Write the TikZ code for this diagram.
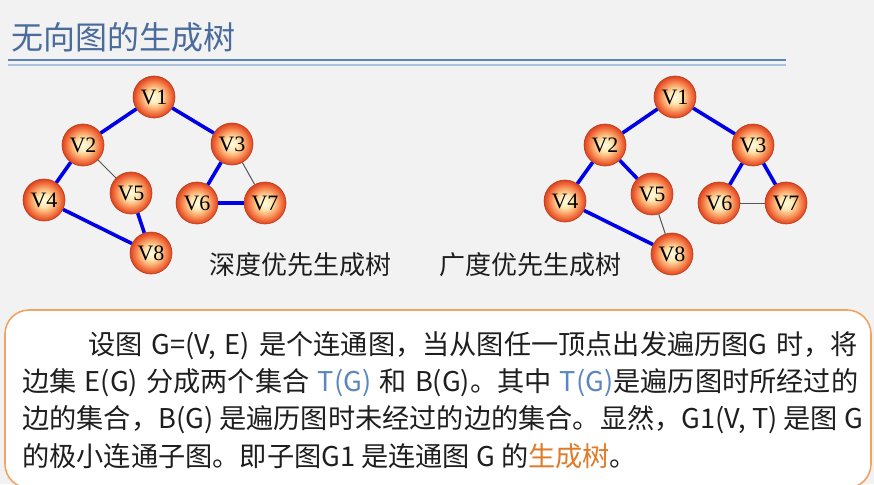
\documentclass[tikz,border=0pt]{standalone}
\usepackage{fontspec}
\setmainfont{Noto Sans CJK SC}
\newfontfamily\vlabelfont{Liberation Serif}
\usetikzlibrary{positioning}
\definecolor{stBg}{HTML}{F2F2F2}
\definecolor{stTitle}{HTML}{4A6B9B}
\definecolor{stRuleA}{HTML}{5C84B6}
\definecolor{stRuleB}{HTML}{A9C1DD}
\definecolor{stTree}{HTML}{0000E6}
\definecolor{stCross}{HTML}{555555}
\definecolor{stFrame}{HTML}{F0A464}
\definecolor{stLink}{HTML}{5B86C0}
\definecolor{stHot}{HTML}{E07B2A}
\definecolor{stInk}{HTML}{1E1E1E}
\definecolor{vCore}{HTML}{FFFBE2}
\definecolor{vPale}{HTML}{FFE6AE}
\definecolor{vMid}{HTML}{FAA468}
\definecolor{vOuter}{HTML}{EF6638}
\definecolor{vRim}{HTML}{DA4420}
\pgfdeclareradialshading{stball}{\pgfpoint{0bp}{0bp}}{%
  color(0bp)=(vCore); color(8bp)=(vPale); color(15bp)=(vMid);
  color(21bp)=(vOuter); color(25bp)=(vRim); color(50bp)=(vRim)}
\tikzset{
  st-vert/.style={
    circle, minimum size=42pt, inner sep=0pt, shading=stball,
    draw=vRim!85!black, line width=0.6pt,
    font=\vlabelfont\fontsize{22}{22}\selectfont
  },
  st-tree/.style={draw=stTree, line width=3.6pt},
  st-cross/.style={draw=stCross, line width=1pt},
  st-cap/.style={font=\fontsize{26}{26}\selectfont, text=stInk, inner sep=0pt},
  st-box/.style={
    draw=stFrame, line width=1.6pt, fill=white, rounded corners=24pt,
    minimum width=866pt, minimum height=178pt, inner sep=0pt
  },
  st-line/.style={anchor=base west, inner sep=0pt, text=stInk,
    font=\fontsize{27.2}{27.2}\selectfont},
}

\begin{document}
\begin{tikzpicture}[x=1pt, y=-1pt]
  \fill[stBg] (0,0) rectangle (874,484);
  \useasboundingbox (0,0) rectangle (874,484);

  % heading
  \node[anchor=west, inner sep=0pt, text=stTitle, font=\fontsize{32}{32}\selectfont] (title) at (11,37) {无向图的生成树};
  \draw[stRuleA, line width=2pt] (8,60.5) -- (786,60.5);
  \draw[stRuleB, line width=1.5pt] (8,65) -- (786,65);

  % depth-first tree
  \begin{scope}[name prefix=d-]
    \foreach \n/\x/\y in {1/154/97, 2/83/145, 3/232/144, 4/44/200,
                          5/131/193, 6/197/203, 7/265/203, 8/151/253}
      \node[st-vert] (v\n) at (\x,\y) {V\n};
  \end{scope}
  \draw[st-tree]  (d-v1) -- (d-v2);
  \draw[st-tree]  (d-v1) -- (d-v3);
  \draw[st-tree]  (d-v2) -- (d-v4);
  \draw[st-tree]  (d-v4) -- (d-v8);
  \draw[st-tree]  (d-v8) -- (d-v5);
  \draw[st-tree]  (d-v3) -- (d-v6);
  \draw[st-tree]  (d-v6) -- (d-v7);
  \draw[st-cross] (d-v2) -- (d-v5);
  \draw[st-cross] (d-v3) -- (d-v7);

  % breadth-first tree
  \begin{scope}[xshift=521pt, name prefix=b-]
    \foreach \n/\x/\y in {1/154/97, 2/84/145, 3/232/145, 4/44/201,
                          5/131/194, 6/198/203, 7/265/203, 8/151/254}
      \node[st-vert] (v\n) at (\x,\y) {V\n};
  \end{scope}
  \draw[st-tree]  (b-v1) -- (b-v2);
  \draw[st-tree]  (b-v1) -- (b-v3);
  \draw[st-tree]  (b-v2) -- (b-v4);
  \draw[st-tree]  (b-v2) -- (b-v5);
  \draw[st-tree]  (b-v3) -- (b-v6);
  \draw[st-tree]  (b-v3) -- (b-v7);
  \draw[st-tree]  (b-v4) -- (b-v8);
  \draw[st-cross] (b-v5) -- (b-v8);
  \draw[st-cross] (b-v6) -- (b-v7);

  \node[st-cap] (dfs-cap) at (300,265) {深度优先生成树};
  \node[st-cap] (bfs-cap) at (530,265) {广度优先生成树};

  % definition box
  \node[st-box] (note) at (438,399) {};
  \node[st-line] (l1) at (88,354) {\makebox[770pt][s]{设图 G=(V, E) 是个连通图，当从图任一顶点出发遍历图G 时，将}};
  \node[st-line] (l2) at (22,391.3) {\makebox[836pt][s]{边集 E(G) 分成两个集合 \textcolor{stLink}{T(G)} 和 B(G)。其中 \textcolor{stLink}{T(G)}是遍历图时所经过的}};
  \node[st-line] (l3) at (22,428.6) {边的集合，B(G) 是遍历图时未经过的边的集合。显然，G1(V, T) 是图 G};
  \node[st-line] (l4) at (22,466) {的极小连通子图。即子图G1 是连通图 G 的\textcolor{stHot}{生成树}。};
\end{tikzpicture}
\end{document}
